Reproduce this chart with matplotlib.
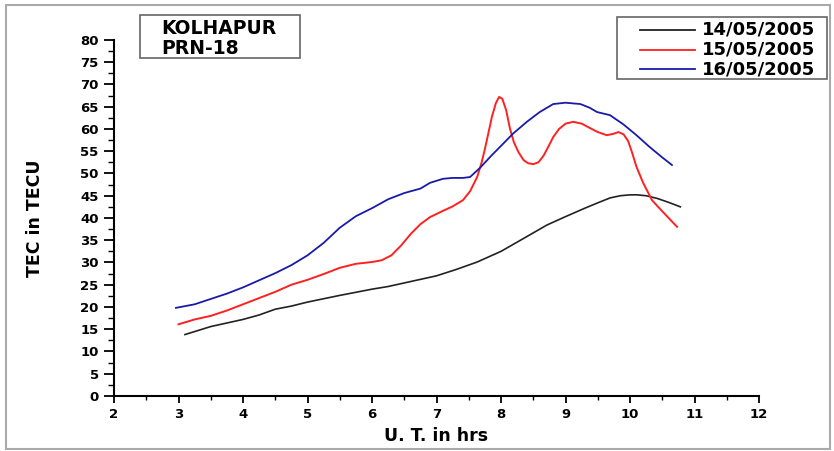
import matplotlib.pyplot as plt
from matplotlib.patches import Rectangle
from matplotlib.lines import Line2D
from matplotlib.ticker import MultipleLocator

# UT hours and TEC values
ut_14 = [3.1, 3.5, 4.0, 4.25, 4.5, 4.75, 5.0, 5.5, 6.0, 6.25, 6.5, 7.0, 7.3, 7.63, 8.0,
         8.35, 8.71, 9.0, 9.3, 9.5, 9.69, 9.85, 10.0, 10.1, 10.25, 10.42, 10.6, 10.78]
tec_14 = [13.8, 15.6, 17.2, 18.2, 19.5, 20.2, 21.1, 22.6, 24.0, 24.6, 25.4, 27.0, 28.4,
          30.1, 32.5, 35.4, 38.4, 40.3, 42.2, 43.4, 44.5, 45.0, 45.2, 45.2, 45.0, 44.4,
          43.5, 42.5]

ut_15 = [3.0, 3.25, 3.5, 3.75, 4.0, 4.5, 4.75, 5.0, 5.25, 5.5, 5.75, 6.0, 6.15, 6.3, 6.45,
         6.6, 6.75, 6.9, 7.1, 7.25, 7.41, 7.52, 7.63, 7.7, 7.75, 7.8, 7.86, 7.92, 7.97,
         8.02, 8.08, 8.14, 8.2, 8.27, 8.35, 8.42, 8.5, 8.58, 8.66, 8.74, 8.81, 8.9, 9.0,
         9.12, 9.25, 9.38, 9.5, 9.64, 9.74, 9.82, 9.9, 9.97, 10.03, 10.1, 10.2, 10.34,
         10.5, 10.73]
tec_15 = [16.1, 17.2, 18.0, 19.2, 20.6, 23.4, 25.0, 26.1, 27.4, 28.8, 29.7, 30.1, 30.5,
          31.6, 33.8, 36.4, 38.6, 40.2, 41.6, 42.6, 44.0, 46.0, 49.2, 52.5, 55.5, 58.8,
          62.8, 65.8, 67.2, 66.8, 64.2, 60.0, 57.0, 54.8, 53.0, 52.3, 52.1, 52.5, 54.0,
          56.2, 58.2, 60.0, 61.2, 61.6, 61.2, 60.2, 59.3, 58.6, 58.9, 59.3, 58.8, 57.3,
          54.8, 51.5, 48.0, 44.0, 41.5, 38.0]

ut_16 = [2.96, 3.25, 3.5, 3.75, 4.0, 4.25, 4.5, 4.75, 5.0, 5.25, 5.5, 5.75, 6.0, 6.25,
         6.5, 6.75, 6.9, 7.1, 7.25, 7.41, 7.52, 7.67, 7.85, 8.0, 8.19, 8.4, 8.6, 8.81, 9.0,
         9.23, 9.37, 9.49, 9.69, 9.9, 10.1, 10.3, 10.5, 10.65]
tec_16 = [19.8, 20.6, 21.8, 23.0, 24.4, 26.0, 27.6, 29.4, 31.6, 34.4, 37.8, 40.4, 42.2,
          44.2, 45.6, 46.6, 47.9, 48.8, 49.0, 49.0, 49.2, 51.2, 54.0, 56.2, 59.0, 61.6,
          63.8, 65.6, 65.9, 65.6, 64.8, 63.8, 63.1, 61.0, 58.6, 56.0, 53.6, 51.9]

plt.rcParams['font.family'] = ['DejaVu Sans']
plt.rcParams['font.weight'] = 'bold'

fig = plt.figure(figsize=(8.34, 4.51), dpi=100)
ax = fig.add_axes([0.1367, 0.1220, 0.7734, 0.7894])

black = '#222222'
red = '#ff2020'
blue = '#1a1aaa'
ax.plot(ut_14, tec_14, color=black, lw=1.2)
ax.plot(ut_15, tec_15, color=red, lw=1.4)
ax.plot(ut_16, tec_16, color=blue, lw=1.3)

ax.set_xlim(2, 12)
ax.set_ylim(0, 80)
ax.xaxis.set_major_locator(MultipleLocator(1))
ax.xaxis.set_minor_locator(MultipleLocator(0.5))
ax.yaxis.set_major_locator(MultipleLocator(5))
ax.yaxis.set_minor_locator(MultipleLocator(2.5))
ax.spines['top'].set_visible(False)
ax.spines['right'].set_visible(False)
ax.spines['left'].set_linewidth(1.5)
ax.spines['bottom'].set_linewidth(1.5)
ax.tick_params(axis='y', which='major', length=7, width=1.3, labelsize=9.5, pad=4)
ax.tick_params(axis='y', which='minor', length=4, width=1.0)
ax.tick_params(axis='x', which='major', length=5, width=1.3, labelsize=9.5, pad=4)
ax.tick_params(axis='x', which='minor', length=3, width=1.0)
for lab in ax.get_xticklabels() + ax.get_yticklabels():
    lab.set_fontweight('bold')

ax.set_xlabel('U. T. in hrs', fontsize=12.5, fontweight='bold', labelpad=4)
ax.set_ylabel('TEC in TECU', fontsize=12.5, fontweight='bold', labelpad=26)

# legend box drawn by hand (reference has wide left padding)
fig.patches.append(Rectangle((617 / 834, 1 - 79 / 451), 210 / 834, 62 / 451,
                             transform=fig.transFigure, facecolor='white',
                             edgecolor='#666666', linewidth=1.2))
labels = ['14/05/2005', '15/05/2005', '16/05/2005']
for i, (lab, col) in enumerate(zip(labels, [black, red, blue])):
    yy = 1 - (30 + 19.5 * i) / 451
    fig.add_artist(Line2D([640 / 834, 695 / 834], [yy, yy], color=col, lw=1.3,
                          transform=fig.transFigure))
    fig.text(702 / 834, yy, lab, fontsize=13, fontweight='bold', va='center',
             ha='left')

# station box
fig.patches.append(Rectangle((140 / 834, 1 - 58 / 451), 160 / 834, 43 / 451,
                             transform=fig.transFigure, facecolor='white',
                             edgecolor='#666666', linewidth=1.2))
fig.text(161 / 834, 1 - 29 / 451, 'KOLHAPUR', fontsize=13.5, fontweight='bold',
         va='center', ha='left')
fig.text(161 / 834, 1 - 49 / 451, 'PRN-18', fontsize=13.5, fontweight='bold',
         va='center', ha='left')

fig.patches.append(Rectangle((0.007, 0.004), 0.988, 0.985, transform=fig.transFigure,
                             fill=False, edgecolor='#aaaaaa', linewidth=1.5))

plt.savefig('out.png', dpi=100)
